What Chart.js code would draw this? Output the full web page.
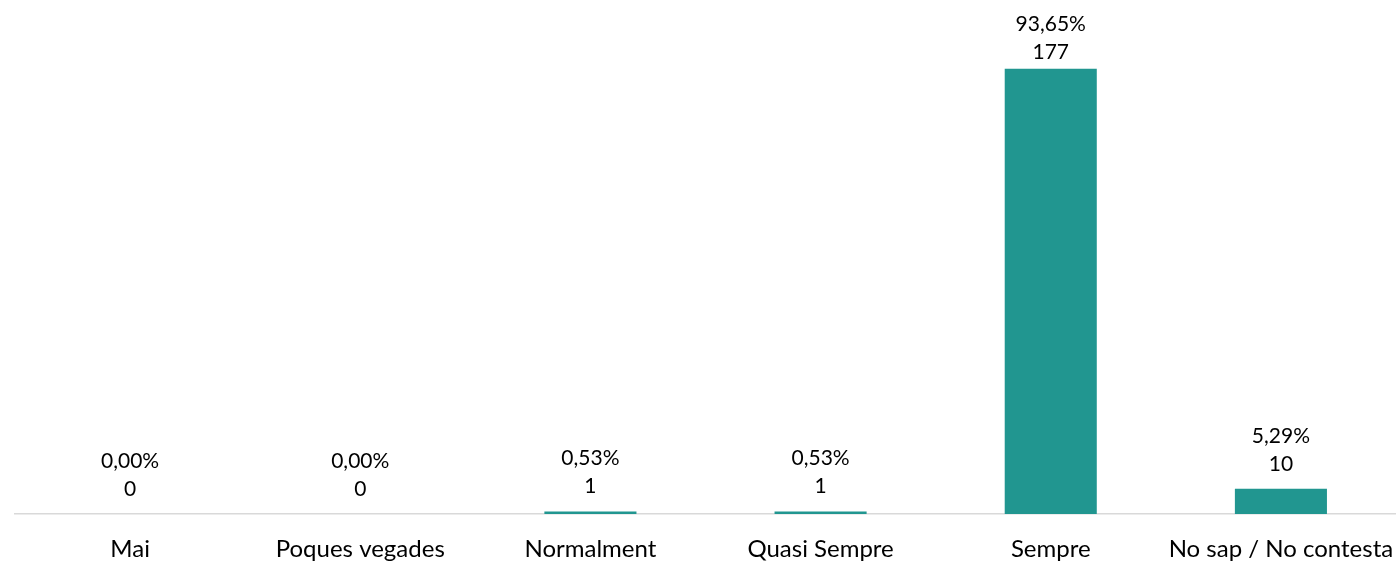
<!DOCTYPE html>
<html>
<head>
<meta charset="utf-8">
<script src="https://cdn.jsdelivr.net/npm/chart.js@4/dist/chart.umd.min.js"></script>
<style>
  html, body { margin: 0; padding: 0; background: #fff; }
  #wrap { width: 1396px; height: 562px; }
</style>
</head>
<body>
<div id="wrap"><canvas id="c"></canvas></div>
<script>
// Responses per answer option
const categories = ["Mai", "Poques vegades", "Normalment", "Quasi Sempre", "Sempre", "No sap / No contesta"];
const counts = [0, 0, 1, 1, 177, 10];
const percents = [0.00, 0.00, 0.53, 0.53, 93.65, 5.29];

const FONT = "Lato, 'Open Sans', sans-serif";
const BAR_COLOR = "#219690";

// Two-line value labels (percentage above count) over each bar
const valueLabels = {
  id: "valueLabels",
  afterDatasetsDraw(chart) {
    const ctx = chart.ctx;
    const meta = chart.getDatasetMeta(0);
    ctx.save();
    ctx.font = "21px " + FONT;
    ctx.fillStyle = "#000";
    ctx.textAlign = "center";
    ctx.textBaseline = "middle";
    meta.data.forEach((bar, i) => {
      const countY = Math.max(bar.y - 25, 52);
      const pct = percents[i].toFixed(2).replace(".", ",") + "%";
      ctx.fillText(pct, bar.x, countY - 28);
      ctx.fillText(String(counts[i]), bar.x, countY);
    });
    ctx.restore();
  }
};

new Chart(document.getElementById("c"), {
  type: "bar",
  data: {
    labels: categories,
    datasets: [{
      data: counts,
      backgroundColor: BAR_COLOR,
      borderWidth: 0,
      barPercentage: 0.8,
      categoryPercentage: 0.5
    }]
  },
  options: {
    responsive: true,
    maintainAspectRatio: false,
    animation: false,
    layout: { padding: { left: 15, right: 0, top: 11, bottom: 0 } },
    plugins: {
      legend: { display: false },
      tooltip: { enabled: false }
    },
    scales: {
      x: {
        grid: { display: false, drawTicks: false },
        border: { display: true, color: "#d9d9d9", width: 1.5 },
        afterFit(scale) {
          // fixed axis band; let the long last label run to the edge
          scale.height = 48;
          scale.paddingLeft = 0;
          scale.paddingRight = 0;
        },
        ticks: {
          color: "#000",
          padding: 21,
          maxRotation: 0,
          autoSkip: false,
          font: { family: FONT, size: 24 }
        }
      },
      y: {
        display: false,
        min: 0,
        max: 200
      }
    }
  },
  plugins: [valueLabels]
});
</script>
</body>
</html>
